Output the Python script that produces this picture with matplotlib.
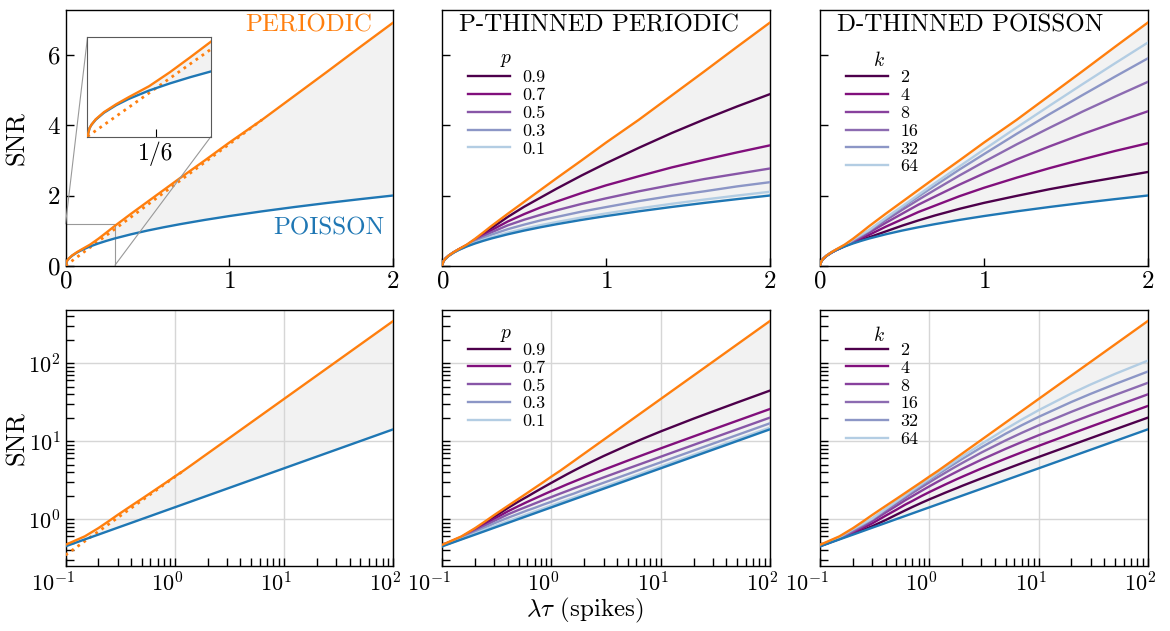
import matplotlib

matplotlib.use("Agg")
import matplotlib.pyplot as plt  # noqa: E402
import matplotlib.transforms as mtransforms  # noqa: E402
import numpy as np  # noqa: E402
from mpl_toolkits.axes_grid1.inset_locator import mark_inset  # noqa: E402

plt.rcParams["font.family"] = ["cmr10", "DejaVu Sans"]
plt.rcParams["mathtext.fontset"] = "cm"
plt.rcParams["axes.formatter.use_mathtext"] = True

ORANGE, BLUE, FILL, GRID = "#ff7f0e", "#1f77b4", "#f2f2f2", "#d6d6d6"

# lambda*tau (spikes), shared by every curve
LT = [0.0, 0.005, 0.01, 0.02, 0.04, 0.07, 0.1, 0.15, 0.2, 0.25, 0.3, 0.4, 0.5, 0.6, 0.7,
      0.85, 1.0, 1.2, 1.4, 1.6, 1.8, 2.0, 3, 5, 7, 10, 20, 30, 50, 100]

POISSON = [0, 0.10, 0.141, 0.20, 0.283, 0.374, 0.447, 0.548, 0.632, 0.707, 0.775, 0.894,
           1.0, 1.095, 1.183, 1.304, 1.414, 1.549, 1.673, 1.789, 1.897, 2.0, 2.449, 3.162,
           3.742, 4.472, 6.325, 7.746, 10.0, 14.14]
PERIODIC = [0, 0.10, 0.143, 0.205, 0.29, 0.385, 0.468, 0.60, 0.765, 0.945, 1.13, 1.48,
            1.82, 2.16, 2.50, 3.00, 3.51, 4.16, 4.85, 5.54, 6.24, 6.93, 10.39, 17.32,
            24.25, 34.64, 69.28, 103.9, 173.2, 346.4]

# dotted asymptote of the periodic curve
DOT_X = [0.0, 0.1, 1.2]
DOT_Y = [0.0, 0.346, 4.16]

P_LABELS = ["0.9", "0.7", "0.5", "0.3", "0.1"]
P_THIN = [
    [0, 0.10, 0.143, 0.205, 0.289, 0.383, 0.464, 0.59, 0.745, 0.905, 1.07, 1.39, 1.68,
     1.94, 2.20, 2.57, 2.92, 3.36, 3.78, 4.17, 4.54, 4.89, 6.43, 8.87, 10.83, 13.3,
     19.4, 23.96, 31.2, 44.4],
    [0, 0.10, 0.142, 0.204, 0.288, 0.381, 0.461, 0.58, 0.72, 0.87, 1.01, 1.26, 1.47,
     1.66, 1.83, 2.07, 2.29, 2.55, 2.80, 3.02, 3.23, 3.43, 4.28, 5.62, 6.70, 8.06,
     11.47, 14.08, 18.21, 25.78],
    [0, 0.10, 0.142, 0.203, 0.287, 0.379, 0.458, 0.57, 0.70, 0.83, 0.95, 1.15, 1.31,
     1.45, 1.58, 1.76, 1.92, 2.12, 2.30, 2.47, 2.62, 2.77, 3.42, 4.44, 5.26, 6.30,
     8.93, 10.94, 14.13, 19.99],
    [0, 0.10, 0.141, 0.202, 0.285, 0.377, 0.453, 0.562, 0.675, 0.785, 0.885, 1.04, 1.17,
     1.29, 1.39, 1.54, 1.67, 1.84, 1.99, 2.12, 2.26, 2.38, 2.92, 3.77, 4.47, 5.34,
     7.56, 9.26, 11.95, 16.90],
    [0, 0.10, 0.141, 0.201, 0.284, 0.375, 0.45, 0.553, 0.65, 0.74, 0.814, 0.941, 1.052,
     1.154, 1.246, 1.373, 1.489, 1.632, 1.763, 1.885, 1.999, 2.107, 2.581, 3.333, 3.943,
     4.713, 6.666, 8.165, 10.54, 14.90],
]
P_COLORS = ["#4d004b", "#810f7c", "#8856a7", "#8c96c6", "#b3cde3"]

K_LABELS = ["2", "4", "8", "16", "32", "64"]
D_THIN = [
    [0, 0.10, 0.141, 0.201, 0.284, 0.375, 0.45, 0.555, 0.655, 0.73, 0.81, 0.975, 1.14,
     1.29, 1.43, 1.62, 1.79, 1.99, 2.18, 2.35, 2.51, 2.67, 3.33, 4.36, 5.20, 6.25,
     8.89, 10.91, 14.11, 19.97],
    [0, 0.10, 0.141, 0.202, 0.285, 0.377, 0.452, 0.561, 0.67, 0.775, 0.88, 1.11, 1.32,
     1.53, 1.71, 1.98, 2.22, 2.51, 2.78, 3.03, 3.27, 3.49, 4.46, 5.96, 7.17, 8.68,
     12.45, 15.33, 19.88, 28.19],
    [0, 0.10, 0.142, 0.203, 0.286, 0.379, 0.455, 0.568, 0.69, 0.815, 0.945, 1.22, 1.48,
     1.74, 1.97, 2.31, 2.63, 3.03, 3.40, 3.75, 4.08, 4.40, 5.78, 7.96, 9.71, 11.89,
     17.33, 21.45, 27.92, 39.74],
    [0, 0.10, 0.142, 0.204, 0.287, 0.381, 0.458, 0.575, 0.71, 0.85, 0.99, 1.295, 1.59,
     1.88, 2.16, 2.57, 2.96, 3.46, 3.93, 4.39, 4.82, 5.24, 7.14, 10.22, 12.74, 15.90,
     23.77, 29.70, 38.98, 55.83],
    [0, 0.10, 0.143, 0.205, 0.288, 0.383, 0.461, 0.582, 0.73, 0.865, 1.005, 1.34, 1.66,
     1.97, 2.28, 2.74, 3.18, 3.76, 4.32, 4.86, 5.39, 5.91, 8.32, 12.45, 15.95, 20.43,
     31.79, 40.38, 53.78, 77.95],
    [0, 0.10, 0.143, 0.205, 0.289, 0.384, 0.464, 0.59, 0.745, 0.885, 1.02, 1.36, 1.69,
     2.02, 2.35, 2.83, 3.31, 3.94, 4.56, 5.17, 5.77, 6.36, 9.18, 14.29, 18.84, 24.89,
     40.87, 53.23, 72.63, 107.5],
]
K_COLORS = ["#4d004b", "#810f7c", "#88419d", "#8c6bb1", "#8c96c6", "#b3cde3"]

LW = 1.7


def _pos(vals, log):
    x = np.asarray(LT)
    y = np.asarray(vals)
    return (x[x > 0], y[x > 0]) if log else (x, y)


def base(ax, log, dotted=False):
    x, lo = _pos(POISSON, log)
    _, hi = _pos(PERIODIC, log)
    ax.fill_between(x, lo, hi, color=FILL, lw=0, zorder=0.2)
    if dotted:
        dx, dy = np.asarray(DOT_X), np.asarray(DOT_Y)
        if log:
            dx, dy = dx[dx > 0], dy[dx > 0]
        ax.plot(dx, dy, ls=":", lw=2, color=ORANGE, zorder=3)
    ax.plot(x, lo, color=BLUE, lw=LW, zorder=4)
    ax.plot(x, hi, color=ORANGE, lw=LW, zorder=4)


def family(ax, log, series, colors, labels, title, top, title_xy):
    for vals, c, lab in zip(series, colors, labels):
        x, y = _pos(vals, log)
        ax.plot(x, y, color=c, lw=LW, label=lab, zorder=3)
    ax.legend(frameon=False, fontsize=13, loc="upper left",
              bbox_to_anchor=(0.08, top), borderaxespad=0, borderpad=0,
              handlelength=2.3, handletextpad=0.7, labelspacing=0.12)
    ax.text(*title_xy, title, transform=ax.transAxes, ha="center",
            va="center", fontsize=14)


def style(ax, log):
    ax.tick_params(which="both", direction="in", top=False, right=False,
                   length=6, width=1)
    for s in ax.spines.values():
        s.set_linewidth(1.0)
    if log:
        ax.set_xscale("log")
        ax.set_yscale("log")
        ax.set_xlim(0.1, 100)
        ax.set_ylim(0.25, 480)
        ax.tick_params(labelsize=16)
        ax.set_axisbelow(True)
        ax.grid(True, which="major", color=GRID, lw=1)
    else:
        ax.set_xlim(0, 2)
        ax.set_ylim(0, 7.3)
        ax.set_xticks([0, 1, 2])
        ax.set_yticks([0, 2, 4, 6])
        ax.tick_params(labelsize=18)


fig = plt.figure(figsize=(11.7, 6.31), dpi=100)
W, H = 0.28, 0.4057
LEFTS = [0.056, 0.378, 0.701]
BOTTOMS = [0.579, 0.103]
axes = [[fig.add_axes([l, b, W, H]) for l in LEFTS] for b in BOTTOMS]

for row, log in enumerate([False, True]):
    a0, a1, a2 = axes[row]
    base(a0, log, dotted=True)
    base(a1, log)
    base(a2, log)
    top = 0.765 if not log else 0.874
    ty = 0.803 if not log else 0.902
    family(a1, log, P_THIN, P_COLORS, P_LABELS, r"$p$", top, (0.194, ty))
    family(a2, log, D_THIN, K_COLORS, K_LABELS, r"$k$", top, (0.179, ty))
    for ax in (a0, a1, a2):
        style(ax, log)
    a1.tick_params(labelleft=False)
    a2.tick_params(labelleft=False)
    a0.set_ylabel("SNR", fontsize=19)
    a0.yaxis.set_label_coords(-0.11, 0.5)

# the decade labels sit a little left of their ticks in the original
for ax in axes[1]:
    ax.set_xticks([0.1, 1, 10, 100])
    for i, lab in enumerate(ax.xaxis.get_majorticklabels()):
        dx = -0.13 if i == 0 else -0.08
        lab.set_transform(lab.get_transform()
                          + mtransforms.ScaledTranslation(dx, 0, fig.dpi_scale_trans))

ax = axes[0][0]
ax.text(0.935, 0.94, "PERIODIC", transform=ax.transAxes, ha="right", va="center",
        fontsize=18, color=ORANGE)
ax.text(0.975, 0.145, "POISSON", transform=ax.transAxes, ha="right", va="center",
        fontsize=18, color=BLUE)
axes[0][1].text(0.05, 0.94, "P-THINNED PERIODIC", transform=axes[0][1].transAxes,
                ha="left", va="center", fontsize=18)
axes[0][2].text(0.05, 0.94, "D-THINNED POISSON", transform=axes[0][2].transAxes,
                ha="left", va="center", fontsize=18)

# zoom on the origin of the top-left panel
axins = ax.inset_axes([0.067, 0.5045, 0.377, 0.387])
base(axins, False, dotted=True)
axins.set_xlim(0, 0.3)
axins.set_ylim(0, 1.18)
axins.set_xticks([1 / 6])
axins.set_xticklabels(["1/6"])
axins.set_yticks([])
axins.tick_params(direction="in", length=6, labelsize=17)
for s in axins.spines.values():
    s.set_color("0.35")
mark_inset(ax, axins, loc1=2, loc2=4, fc="none", ec="0.6", lw=0.8)

fig.text(0.5, 0.032, r"$\lambda\tau$ (spikes)", ha="center", va="center", fontsize=18)

fig.savefig("out.png", dpi=100)
